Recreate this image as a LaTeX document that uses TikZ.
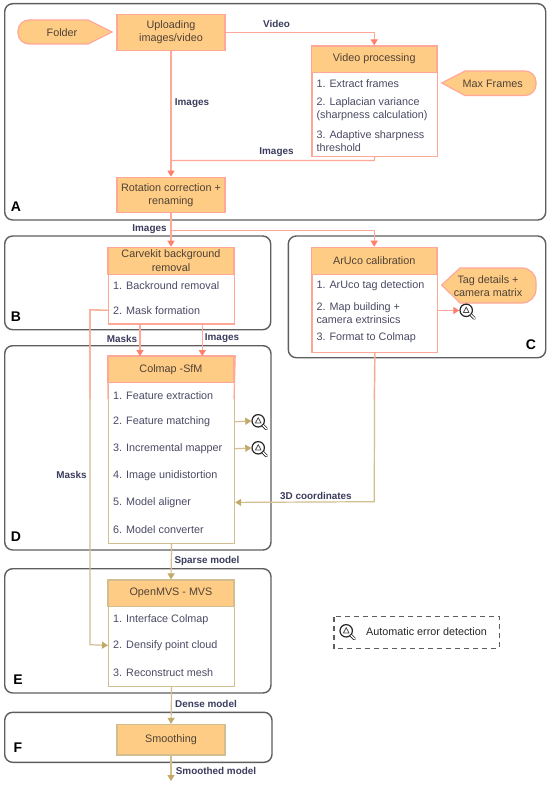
\documentclass[tikz,border=0pt]{standalone}
\usepackage{fontspec}
\setmainfont{Liberation Sans}
\usetikzlibrary{arrows.meta}
\usetikzlibrary{calc}

\definecolor{salmonline}{HTML}{FFA898}
\definecolor{salmonhead}{HTML}{FF7F6B}
\definecolor{tanline}{HTML}{D2BE90}
\definecolor{tanhead}{HTML}{C4A868}
\definecolor{headerfill}{HTML}{FFCC85}
\definecolor{panelgrey}{HTML}{5E5E5E}
\definecolor{itemgrey}{HTML}{4A4A64}
\definecolor{labelnavy}{HTML}{3C3C5E}
\definecolor{headertext}{HTML}{4E4236}

\tikzset{
	panel/.style = {draw = panelgrey, line width = 1.4pt, rounded corners = 8pt},
	panelletter/.style = {font = \fontsize{14}{14}\selectfont\bfseries, text = black, inner sep = 0pt},
	headerbox/.style = {draw = salmonline, fill = headerfill, line width = 1.2pt, text = headertext, align = center, inner sep = 0pt, font = \fontsize{10.8}{13.4}\selectfont},
	listbody/.style = {draw = salmonline, fill = white, line width = 1.2pt, inner sep = 0pt, anchor = north west},
	listitem/.style = {anchor = west, align = left, inner sep = 0pt, yshift = -0.7pt, text = itemgrey, font = \fontsize{10.8}{13}\selectfont},
	inputtext/.style = {align = center, inner sep = 0pt, yshift = -0.5pt, text = headertext, font = \fontsize{10.8}{13.2}\selectfont},
	inputshape/.style = {draw = salmonline, fill = headerfill, line width = 1.2pt},
	flowlabel/.style = {inner sep = 0pt, yshift = -0.7pt, text = labelnavy, font = \fontsize{9.9}{12}\selectfont\bfseries},
	salmonflow/.style = {draw = salmonline, line width = 1.2pt, -{Triangle[width = 7pt, length = 6pt, fill = salmonhead, color = salmonhead]}},
	tanflow/.style = {draw = tanline, line width = 1.2pt, -{Triangle[width = 7pt, length = 6pt, fill = tanhead, color = tanhead]}},
	salmonplain/.style = {draw = salmonline, line width = 1.2pt},
	lensspot/.style = {inner sep = 0pt, minimum size = 15pt},
	errorlens/.pic = {
		\draw[black!85, line width = 1.2pt] (-0.8,-0.2) circle (6.2pt);
		\draw[black!70, line width = 0.8pt, line join = round] (-3.6,2) -- (-0.8,-3.4) -- (2,2) -- cycle;
		\draw[black!85, line width = 3pt, line cap = round] (4,4.4) -- (7.4,7.8);
		\draw[white, line width = 1.3pt, line cap = round] (4,4.4) -- (7.4,7.8);
	}
}

\begin{document}
\begin{tikzpicture}[x = 1pt, y = -1pt]
	\useasboundingbox (0,0) rectangle (550,786);
	\fill[white] (0,0) rectangle (550,786);

	% panels
	\draw[panel] (4.7,3.7) rectangle (545.7,220);
	\draw[panel] (4.7,236) rectangle (270.7,329.7);
	\draw[panel] (288.3,236) rectangle (545.7,357.7);
	\draw[panel] (4.7,345.7) rectangle (271,550);
	\draw[panel] (4.7,568.7) rectangle (271,693);
	\draw[panel] (4.7,712.3) rectangle (272,762.3);

	\node[panelletter] at (16,207) (letter_a) {A};
	\node[panelletter] at (16,317) (letter_b) {B};
	\node[panelletter] at (531,345) (letter_c) {C};
	\node[panelletter] at (16,537) (letter_d) {D};
	\node[panelletter] at (18,680) (letter_e) {E};
	\node[panelletter] at (18,748) (letter_f) {F};

	% inputs
	\draw[inputshape, rounded corners = 11pt] (50,44) -- (18,44) -- (18,20) -- (50,20) [sharp corners] -- (88,20) -- (112,32) -- (88,44) -- cycle;
	\draw[inputshape, rounded corners = 11pt] (500,71) -- (536,71) -- (536,95.5) -- (500,95.5) [sharp corners] -- (465,95.5) -- (441.7,83) -- (465,71) -- cycle;
	\draw[inputshape, rounded corners = 14pt] (500,268) -- (536,268) -- (536,303) -- (500,303) [sharp corners] -- (460,303) -- (441.7,285) -- (460,268) -- cycle;
	\node[inputtext] at (62,32) (folder) {Folder};
	\node[inputtext] at (492.7,83) (max_frames) {Max Frames};
	\node[inputtext] at (488,285.5) (tag_details) {Tag details +\\camera matrix};

	% plain boxes
	\node[headerbox, minimum width = 108pt, minimum height = 36pt] at (171,32.5) (uploading) {Uploading\\images/video};
	\node[headerbox, minimum width = 108pt, minimum height = 35.5pt] at (171,195) (rotation) {Rotation correction +\\renaming};
	\node[headerbox, draw = tanline, minimum width = 108pt, minimum height = 30.5pt] at (171,739.7) (smoothing) {Smoothing};

	% list boxes
	\node[listbody, minimum width = 125.7pt, minimum height = 110pt] at (311.3,46) (video_body) {};
	\node[headerbox, minimum width = 125.7pt, minimum height = 26.5pt] at (374.2,59.2) (video_head) {Video processing};
	\node[listitem] at (316.3,83) (extract) {1. Extract frames};
	\node[listitem] at (316.3,108.5) (laplacian) {2. Laplacian variance\\(sharpness calculation)};
	\node[listitem] at (316.3,140.5) (adaptive) {3. Adaptive sharpness\\threshold};

	\node[listbody, minimum width = 126pt, minimum height = 76pt] at (108,247.3) (carve_body) {};
	\node[headerbox, minimum width = 126pt, minimum height = 27pt] at (171,260.8) (carve_head) {Carvekit background\\removal};
	\node[listitem] at (113,285) (backround) {1. Backround removal};
	\node[listitem] at (113,309.7) (mask_form) {2. Mask formation};

	\node[listbody, minimum width = 125.7pt, minimum height = 104.4pt] at (311.3,247.3) (aruco_body) {};
	\node[headerbox, minimum width = 125.7pt, minimum height = 27pt] at (374.2,260.8) (aruco_head) {ArUco calibration};
	\node[listitem] at (316.3,285) (tag_detect) {1. ArUco tag detection};
	\node[listitem] at (316.3,312) (map_build) {2. Map building +\\camera extrinsics};
	\node[listitem] at (316.3,337) (format_col) {3. Format to Colmap};

	\node[listbody, draw = tanline, minimum width = 126pt, minimum height = 186.7pt] at (108,356) (colmap_body) {};
	\draw[salmonplain] (108,399) -- (colmap_body.north west) -- (colmap_body.north east) -- (234,399);
	\node[headerbox, minimum width = 126pt, minimum height = 26.7pt] at (171,369.3) (colmap_head) {Colmap -SfM};
	\node[listitem] at (113,395) (feat_extract) {1. Feature extraction};
	\node[listitem] at (113,421) (feat_match) {2. Feature matching};
	\node[listitem] at (113,448) (incr_mapper) {3. Incremental mapper};
	\node[listitem] at (113,475) (undistort) {4. Image unidistortion};
	\node[listitem] at (113,501.7) (aligner) {5. Model aligner};
	\node[listitem] at (113,528.7) (converter) {6. Model converter};

	\node[listbody, draw = tanline, minimum width = 126pt, minimum height = 106pt] at (108,580) (open_body) {};
	\node[headerbox, draw = tanline, minimum width = 126pt, minimum height = 26.7pt] at (171,593.3) (open_head) {OpenMVS - MVS};
	\node[listitem] at (113,618.7) (interface) {1. Interface Colmap};
	\node[listitem] at (113,644.7) (densify) {2. Densify point cloud};
	\node[listitem] at (113,671.7) (reconstruct) {3. Reconstruct mesh};

	% lens icons
	\node[lensspot] at (259,421) (lens_match) {};
	\node[lensspot] at (259,448) (lens_mapper) {};
	\node[lensspot] at (467,310.5) (lens_aruco) {};
	\pic at (lens_match) {errorlens};
	\pic at (lens_mapper) {errorlens};
	\pic at (lens_aruco) {errorlens};

	% legend
	\draw[panelgrey, line width = 1.2pt, dashed, dash pattern = on 5pt off 4pt] (334,616.7) rectangle (499.3,648.3);
	\node[lensspot] at (347,631) (lens_legend) {};
	\pic at (lens_legend) {errorlens};
	\node[anchor = west, inner sep = 0pt, font = \fontsize{10.8}{13}\selectfont, text = black!85] at (366,632) (legend_text) {Automatic error detection};

	% salmon connectors
	\coordinate (video_corner) at (374.2,32.5);
	\coordinate (images_join) at (171,160.5);
	\coordinate (aruco_branch) at (171,230.7);
	\coordinate (mask_turn) at (90,399);
	\coordinate (coords_turn) at (374.2,399);
	\draw[salmonflow] (uploading.south) -- (rotation.north);
	\draw[salmonflow] (uploading.east) -- (video_corner) -- (video_head.north);
	\draw[salmonplain] (video_body.south) -- (374.2,160.5) -- (images_join);
	\draw[salmonflow] (rotation.south) -- (carve_head.north);
	\draw[salmonflow] (aruco_branch) -- (374.2,230.7) -- (aruco_head.north);
	\draw[salmonflow] (140,323.3) -- (140,356);
	\draw[salmonflow] (202.3,323.3) -- (202.3,356);
	\draw[salmonflow] (aruco_body.east |- lens_aruco) -- (lens_aruco.west);

	% tan connectors
	\draw[tanflow] (feat_match -| colmap_body.east) -- (lens_match.west);
	\draw[tanflow] (incr_mapper -| colmap_body.east) -- (lens_mapper.west);
	\draw[tanflow] (aruco_body.south) -- (374.2,501.7) -- (aligner -| colmap_body.east);
	\draw[tanflow] (colmap_body.south) -- (open_head.north);
	\draw[tanflow] (open_body.south) -- (smoothing.north);
	\coordinate (smooth_end) at (171,781);
	\draw[tanflow] (smoothing.south) -- (smooth_end);
	\draw[tanflow] (mask_form -| carve_body.west) -- (90,309.7) -- (90,644.7) -- (densify -| open_body.west);
	\draw[salmonplain] (mask_form -| carve_body.west) -- (90,309.7) -- (mask_turn);
	\draw[salmonplain] (aruco_body.south) -- (coords_turn);

	% labels
	\node[flowlabel] at (276.5,23) (label_video) {Video};
	\node[flowlabel] at (192,102) (label_images_a) {Images};
	\node[flowlabel] at (276.5,151.5) (label_images_b) {Images};
	\node[flowlabel] at (149.5,228) (label_images_c) {Images};
	\node[flowlabel] at (122,338) (label_masks_a) {Masks};
	\node[flowlabel] at (222,337) (label_images_d) {Images};
	\node[flowlabel] at (71.5,474) (label_masks_b) {Masks};
	\node[flowlabel] at (316,495) (label_coords) {3D coordinates};
	\node[flowlabel] at (207,560) (label_sparse) {Sparse model};
	\node[flowlabel] at (206,703) (label_dense) {Dense model};
	\node[flowlabel] at (216,770) (label_smoothed) {Smoothed model};
\end{tikzpicture}
\end{document}
